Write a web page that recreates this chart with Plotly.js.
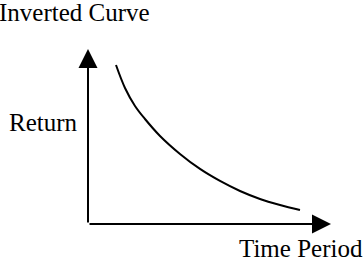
<!DOCTYPE html>
<html>
<head>
<meta charset="utf-8">
<script src="https://cdn.plot.ly/plotly-3.0.1.min.js"></script>
<style>html,body{margin:0;padding:0;background:#fff;}#chart{width:364px;height:265px;}</style>
</head>
<body>
<div id="chart"></div>
<script>
// Data (time period vs return, arbitrary units)
const timePeriod = [1.4, 1.85, 2.35, 2.85, 3.6, 4.6, 5.6, 6.6, 7.6, 8.6, 9.6, 10.6];
const returnValues = [10.6, 9.07, 7.87, 7.0, 5.87, 4.67, 3.67, 2.87, 2.2, 1.67, 1.27, 0.93];
const titleText = "Inverted Curve";
const xLabel = "Time Period";
const yLabel = "Return";

const xAxisEnd = 12.15;
const yAxisEnd = 11.67;
const font = {family: "Liberation Serif", size: 25, color: "#000"};

const trace = {
  x: timePeriod, y: returnValues, type: "scatter", mode: "lines",
  line: {color: "#000", width: 2, shape: "spline", smoothing: 1},
  hoverinfo: "skip"
};

const layout = {
  width: 364, height: 265,
  margin: {l: 0, r: 0, t: 0, b: 0},
  paper_bgcolor: "#fff", plot_bgcolor: "#fff",
  showlegend: false,
  font: font,
  xaxis: {range: [-4.4, 13.8], visible: false, fixedrange: true},
  yaxis: {range: [-2.733, 14.933], visible: false, fixedrange: true},
  annotations: [
    {x: xAxisEnd, y: 0, ax: 0, ay: 0, xref: "x", yref: "y", axref: "x", ayref: "y",
     showarrow: true, arrowhead: 2, arrowsize: 1.9, arrowwidth: 2, arrowcolor: "#000", text: ""},
    {x: 0, y: yAxisEnd, ax: 0, ay: 0, xref: "x", yref: "y", axref: "x", ayref: "y",
     showarrow: true, arrowhead: 2, arrowsize: 1.9, arrowwidth: 2, arrowcolor: "#000", text: ""},
    {text: titleText, x: 0, y: 1, xref: "paper", yref: "paper", xshift: -3, yshift: 3,
     xanchor: "left", yanchor: "top", showarrow: false, font: font},
    {text: yLabel, x: 7/364, y: 1 - 122/265, xref: "paper", yref: "paper",
     xanchor: "left", yanchor: "middle", showarrow: false, font: font},
    {text: xLabel, x: 237/364, y: 1 - 248/265, xref: "paper", yref: "paper",
     xanchor: "left", yanchor: "middle", showarrow: false, font: font}
  ]
};

Plotly.newPlot("chart", [trace], layout, {staticPlot: true, displayModeBar: false});
</script>
</body>
</html>
